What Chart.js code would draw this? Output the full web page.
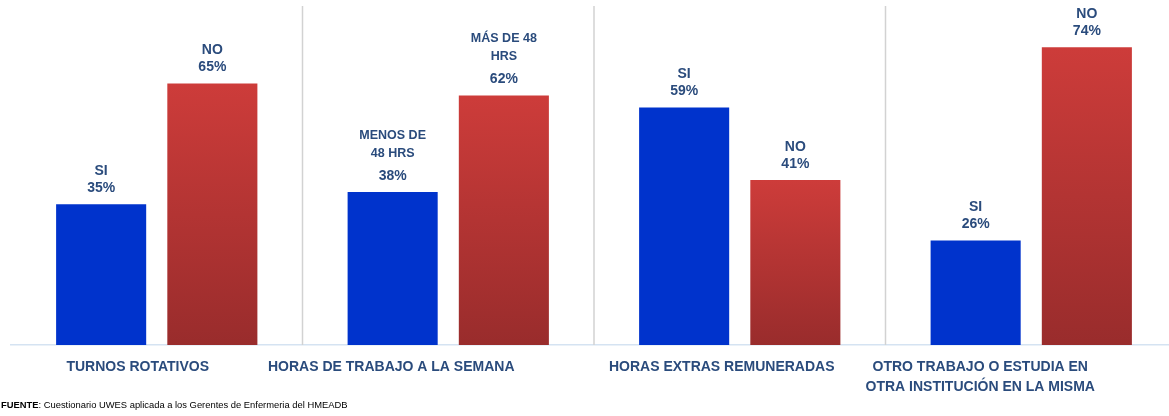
<!DOCTYPE html>
<html>
<head>
<meta charset="utf-8">
<script src="https://cdn.jsdelivr.net/npm/chart.js@4/dist/chart.umd.min.js"></script>
<style>
    html, body { margin: 0; padding: 0; background: #fff; overflow: hidden; }
    #wrap { position: relative; width: 1180px; height: 416px; }
    #fuente {
        position: absolute; left: 1px; top: 399px;
        font-family: "Liberation Sans", Arial, sans-serif; font-size: 9.4px; color: #000;
    }
</style>
</head>
<body>
<div id="wrap">
    <canvas id="chart" width="1180" height="416"></canvas>
    <div id="fuente"><b>FUENTE</b>: Cuestionario UWES aplicada a los Gerentes de Enfermeria del HMEADB</div>
</div>
<script>
// datos
const categories = [
    ['TURNOS ROTATIVOS'],
    ['HORAS DE TRABAJO A LA SEMANA'],
    ['HORAS EXTRAS REMUNERADAS'],
    ['OTRO TRABAJO O ESTUDIA EN', 'OTRA INSTITUCIÓN EN LA MISMA']
];
const siValues = [35, 38, 59, 26];
const noValues = [65, 62, 41, 74];
const siNames = [['SI'], ['MENOS DE', '48 HRS'], ['SI'], ['SI']];
const noNames = [['NO'], ['MÁS DE 48', 'HRS'], ['NO'], ['NO']];

// desplazamiento horizontal de las etiquetas de categoria (como en el original)
const labelShift = [-19, -57, -18, -51];

const textColor = '#2A4B7C';
const fontFamily = '"Liberation Sans", Arial, sans-serif';

function redGradient(context) {
    const chart = context.chart;
    const area = chart.chartArea;
    if (!area || !chart.scales.y) return '#B83432';
    const y = chart.scales.y;
    const top = y.getPixelForValue(context.raw);
    const bottom = y.getPixelForValue(0);
    const g = chart.ctx.createLinearGradient(0, top, 0, bottom);
    g.addColorStop(0, '#CD3C3A');
    g.addColorStop(1, '#992C2C');
    return g;
}

const decoPlugin = {
    id: 'deco',
    beforeDatasetsDraw(chart) {
        const ctx = chart.ctx;
        const x = chart.scales.x;
        ctx.save();
        ctx.strokeStyle = '#D2D2D2';
        ctx.lineWidth = 1.5;
        for (let i = 0; i < categories.length - 1; i++) {
            const px = (x.getPixelForValue(i) + x.getPixelForValue(i + 1)) / 2;
            ctx.beginPath();
            ctx.moveTo(px, 6);
            ctx.lineTo(px, chart.chartArea.bottom);
            ctx.stroke();
        }
        ctx.restore();
    },
    afterDatasetsDraw(chart) {
        const ctx = chart.ctx;
        const names = [siNames, noNames];
        ctx.save();
        ctx.fillStyle = textColor;
        ctx.textAlign = 'center';
        ctx.textBaseline = 'middle';
        chart.data.datasets.forEach((ds, d) => {
            chart.getDatasetMeta(d).data.forEach((bar, i) => {
                ctx.font = 'bold 14px ' + fontFamily;
                ctx.fillText(ds.data[i] + '%', bar.x, bar.y - 16);
                const lines = names[d][i];
                if (lines.length === 1) {
                    ctx.fillText(lines[0], bar.x, bar.y - 33);
                } else {
                    ctx.font = 'bold 12.5px ' + fontFamily;
                    lines.slice().reverse().forEach((t, k) => {
                        ctx.fillText(t, bar.x, bar.y - 39 - k * 18);
                    });
                }
            });
        });
        // etiquetas de categoria
        const x = chart.scales.x;
        ctx.font = 'bold 14px ' + fontFamily;
        categories.forEach((lines, i) => {
            const cx = x.getPixelForValue(i) + labelShift[i];
            lines.forEach((t, k) => {
                ctx.fillText(t, cx, chart.chartArea.bottom + 22 + k * 20);
            });
        });
        ctx.restore();
    }
};

new Chart(document.getElementById('chart'), {
    type: 'bar',
    data: {
        labels: categories,
        datasets: [{
            label: 'SI',
            data: siValues,
            backgroundColor: '#0033CC',
            categoryPercentage: 0.763,
            barPercentage: 0.81
        }, {
            label: 'NO',
            data: noValues,
            backgroundColor: redGradient,
            categoryPercentage: 0.763,
            barPercentage: 0.81
        }]
    },
    options: {
        responsive: false,
        animation: false,
        layout: { padding: { left: 11, right: 3, top: 3, bottom: 63 } },
        plugins: {
            legend: { display: false },
            tooltip: { enabled: false }
        },
        scales: {
            x: {
                grid: { display: false },
                border: { display: true, color: '#D5E3F2', width: 1.5 },
                ticks: { display: false }
            },
            y: {
                display: false,
                min: 0,
                max: 85
            }
        }
    },
    plugins: [decoPlugin]
});
</script>
</body>
</html>
